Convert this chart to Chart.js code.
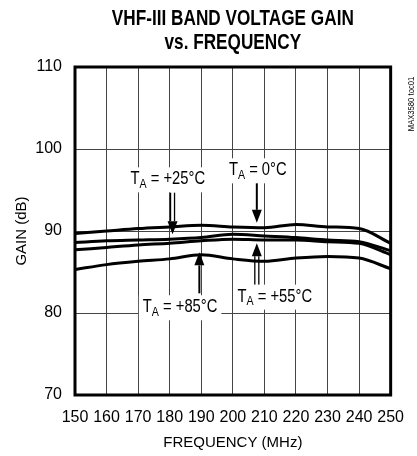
<!DOCTYPE html>
<html>
<head>
<meta charset="utf-8">
<script src="https://cdn.jsdelivr.net/npm/chart.js@4/dist/chart.umd.min.js"></script>
<style>
  html, body { margin: 0; padding: 0; background: #fff; }
  #wrap { width: 417px; height: 456px; }
</style>
</head>
<body>
<div id="wrap"><canvas id="gainChart" width="417" height="456"></canvas></div>
<script>
// values
const freqMHz = [150, 160, 170, 180, 190, 200, 210, 220, 230, 240, 250];
const gain0C  = [89.7, 90.0, 90.3, 90.5, 90.7, 90.5, 90.4, 90.8, 90.5, 90.3, 88.5];
const gain25C = [88.6, 88.8, 88.9, 89.0, 89.2, 89.6, 89.4, 89.2, 88.9, 88.7, 87.6];
const gain55C = [87.7, 88.0, 88.3, 88.5, 88.8, 89.0, 88.9, 88.9, 88.7, 88.5, 87.1];
const gain85C = [85.3, 85.9, 86.3, 86.6, 87.1, 86.6, 86.3, 86.7, 86.9, 86.7, 85.4];

const titleLines = ['VHF-III BAND VOLTAGE GAIN', 'vs. FREQUENCY'];
const tempLabels = ['0°C', '+25°C', '+55°C', '+85°C'];

// where each temperature note sits, in chart units (MHz, dB)
const notes = [
  { text: tempLabels[0], x: 207.9, y: 97.4, ax: 207.6, from: 96.0, to: 91.0, hollow: false },
  { text: tempLabels[1], x: 179.4, y: 96.3, ax: 180.9, from: 94.7, to: 89.6, hollow: true },
  { text: tempLabels[2], x: 213.3, y: 82.0, ax: 207.6, from: 83.4, to: 88.5, hollow: true },
  { text: tempLabels[3], x: 183.3, y: 80.7, ax: 189.4, from: 82.4, to: 87.4, hollow: false }
];

const FONT = '"Liberation Sans", Arial, sans-serif';
const SQUEEZE = 0.82; // the original type is a condensed face

function series(vals) {
  return freqMHz.map((f, i) => ({ x: f, y: vals[i] }));
}

function curve(vals) {
  return {
    data: series(vals),
    borderColor: '#000',
    borderWidth: 3,
    pointRadius: 0,
    fill: false,
    tension: 0.4,
    cubicInterpolationMode: 'monotone'
  };
}

function drawTA(ctx, text, cx, cy) {
  const big = '18px ' + FONT, small = '13px ' + FONT;
  ctx.font = big;
  const wT = ctx.measureText('T').width;
  const rest = ' = ' + text;
  const wR = ctx.measureText(rest).width;
  ctx.font = small;
  const wA = ctx.measureText('A').width;
  const total = (wT + wA + wR) * SQUEEZE;

  ctx.fillStyle = '#fff';
  ctx.fillRect(cx - total / 2 - 4, cy - 12, total + 8, 25);

  ctx.save();
  ctx.translate(cx - total / 2, cy);
  ctx.scale(SQUEEZE, 1);
  ctx.fillStyle = '#000';
  ctx.textBaseline = 'middle';
  ctx.textAlign = 'left';
  ctx.font = big;
  ctx.fillText('T', 0, 0);
  ctx.font = small;
  ctx.fillText('A', wT, 5);
  ctx.font = big;
  ctx.fillText(rest, wT + wA, 0);
  ctx.restore();
}

function drawArrow(ctx, x, y1, y2, hollow) {
  const dir = y2 > y1 ? 1 : -1;
  const headLen = 13, headW = 5;
  const shaftEnd = y2 - dir * headLen;
  ctx.strokeStyle = '#000';
  if (hollow) {
    ctx.lineWidth = 1.3;
    ctx.beginPath();
    ctx.moveTo(x - 2, y1); ctx.lineTo(x - 2, shaftEnd);
    ctx.moveTo(x + 2, y1); ctx.lineTo(x + 2, shaftEnd);
    ctx.stroke();
  } else {
    ctx.lineWidth = 2;
    ctx.beginPath();
    ctx.moveTo(x, y1); ctx.lineTo(x, shaftEnd);
    ctx.stroke();
  }
  ctx.fillStyle = '#000';
  ctx.beginPath();
  ctx.moveTo(x - headW, shaftEnd);
  ctx.lineTo(x + headW, shaftEnd);
  ctx.lineTo(x, y2);
  ctx.closePath();
  ctx.fill();
}

const extras = {
  id: 'extras',
  beforeDatasetsDraw(chart) {
    const { ctx, scales: { x, y } } = chart;
    ctx.save();
    notes.forEach(n => {
      drawArrow(ctx, x.getPixelForValue(n.ax), y.getPixelForValue(n.from), y.getPixelForValue(n.to), n.hollow);
      drawTA(ctx, n.text, x.getPixelForValue(n.x), y.getPixelForValue(n.y));
    });
    ctx.restore();
  },
  afterDatasetsDraw(chart) {
    const { ctx, chartArea: a } = chart;
    ctx.save();
    ctx.strokeStyle = '#000';
    ctx.lineWidth = 3;
    ctx.strokeRect(a.left, a.top, a.right - a.left, a.bottom - a.top);
    ctx.restore();
  },
  afterDraw(chart) {
    const { ctx, chartArea: a } = chart;
    const cx = (a.left + a.right) / 2;
    ctx.save();
    ctx.fillStyle = '#000';
    ctx.textAlign = 'center';
    ctx.textBaseline = 'middle';
    ctx.font = 'bold 22px ' + FONT;
    // squeeze the bold title to the width of the original condensed heading
    const k = 242 / ctx.measureText(titleLines[0]).width;
    ctx.translate(cx, 0);
    ctx.scale(k, 1);
    ctx.fillText(titleLines[0], 0, 19);
    ctx.fillText(titleLines[1], 0, 43);
    ctx.restore();

    ctx.save();
    ctx.fillStyle = '#000';
    ctx.textAlign = 'center';
    ctx.textBaseline = 'middle';
    ctx.font = '9px ' + FONT;
    ctx.translate(412, 104);
    ctx.rotate(-Math.PI / 2);
    ctx.scale(0.85, 1);
    ctx.fillText('MAX3580 toc01', 0, 0);
    ctx.restore();
  }
};

new Chart(document.getElementById('gainChart'), {
  type: 'line',
  data: {
    datasets: [curve(gain0C), curve(gain25C), curve(gain55C), curve(gain85C)]
  },
  options: {
    responsive: false,
    animation: false,
    layout: { padding: { top: 67, right: 12, left: 0, bottom: 0 } },
    plugins: { legend: { display: false }, tooltip: { enabled: false }, title: { display: false } },
    scales: {
      x: {
        type: 'linear',
        min: 150,
        max: 250,
        ticks: { stepSize: 10, color: '#000', font: { family: FONT, size: 16 }, padding: 13, maxRotation: 0 },
        grid: { color: '#444', lineWidth: 1, drawTicks: false },
        border: { display: false },
        title: { display: true, text: 'FREQUENCY (MHz)', color: '#000', font: { family: FONT, size: 15 }, padding: { top: 0, bottom: 4 } },
        afterFit(scale) { scale.height = 61; }
      },
      y: {
        min: 70,
        max: 110,
        ticks: { stepSize: 10, color: '#000', font: { family: FONT, size: 16 }, padding: 13 },
        grid: { color: '#444', lineWidth: 1, drawTicks: false },
        border: { display: false },
        title: { display: true, text: 'GAIN (dB)', color: '#000', font: { family: FONT, size: 15 }, padding: { top: 13, bottom: 0 } },
        afterFit(scale) { scale.width = 75; }
      }
    }
  },
  plugins: [extras]
});
</script>
</body>
</html>
